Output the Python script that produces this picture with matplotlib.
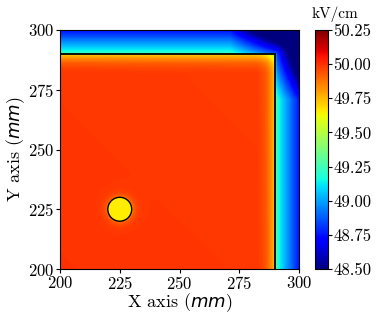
import numpy as np
import matplotlib
matplotlib.use("Agg")
import matplotlib.pyplot as plt
from matplotlib.patches import Circle

plt.rcParams['font.family'] = 'serif'
plt.rcParams['font.serif'] = ['cmr10', 'DejaVu Serif']
plt.rcParams['axes.formatter.use_mathtext'] = True
plt.rcParams['axes.unicode_minus'] = False

# ---- data ----
x_range = [200, 300]          # mm
y_range = [200, 300]          # mm
boundary = 290                # mm, inner square edge
base_field = 50.0             # kV/cm in the bulk
inner_dist = [0, 1, 2, 3, 4, 6, 8, 100]            # mm inside the boundary
inner_drop = [0.30, 0.22, 0.16, 0.11, 0.07, 0.03, 0.01, 0.0]
outer_dist = [0, 1, 2, 4, 6, 8, 10, 15]            # mm outside the boundary
outer_drop = [0.75, 0.82, 0.88, 0.98, 1.07, 1.17, 1.25, 1.45]
corner_start = 271            # mm, where the extra corner drop begins
corner_drop = 0.85            # kV/cm extra drop at the far corner
circle_center = (225, 225)    # mm
circle_radius = 5             # mm
circle_field = 49.65          # kV/cm inside the inclusion
halo_drop = 0.12
cbar_ticks = [48.50, 48.75, 49.00, 49.25, 49.50, 49.75, 50.00, 50.25]
vmin, vmax = 48.5, 50.25

# ---- build the field grid ----
n = 400
xs = np.linspace(x_range[0], x_range[1], n)
ys = np.linspace(y_range[0], y_range[1], n)
X, Y = np.meshgrid(xs, ys)

inside = (X <= boundary) & (Y <= boundary)
E_in = base_field - np.interp(boundary - X, inner_dist, inner_drop) \
    - np.interp(boundary - Y, inner_dist, inner_drop)

dxo = np.clip(X - boundary, 0, None)
dyo = np.clip(Y - boundary, 0, None)
r_out = np.hypot(dxo, dyo)
gx = np.clip((X - corner_start) / (x_range[1] - corner_start), 0, 1)
gy = np.clip((Y - corner_start) / (y_range[1] - corner_start), 0, 1)
E_out = base_field - np.interp(r_out, outer_dist, outer_drop) - corner_drop * gx * gy

E = np.where(inside, E_in, E_out)

rc = np.hypot(X - circle_center[0], Y - circle_center[1])
E = np.where(rc <= circle_radius, circle_field,
             E - halo_drop * np.exp(-(rc - circle_radius) / 1.5) * (rc > circle_radius))

# ---- figure ----
fig = plt.figure(figsize=(3.81, 3.18), dpi=100)
ax = fig.add_axes([60/381, 49/318, 239/381, 239/318])
cax = fig.add_axes([315/381, 49/318, 13/381, 239/318])

im = ax.imshow(E, origin='lower', extent=[x_range[0], x_range[1], y_range[0], y_range[1]],
               cmap='jet', vmin=vmin, vmax=vmax, interpolation='bilinear', aspect='auto')
ax.plot([boundary, boundary], [y_range[0], boundary], color='k', lw=1.3)
ax.plot([x_range[0], boundary], [boundary, boundary], color='k', lw=1.3)
ax.add_patch(Circle(circle_center, circle_radius, fill=False, ec='k', lw=1.0))

ax.set_xlim(x_range)
ax.set_ylim(y_range)
ax.set_xticks([200, 225, 250, 275, 300])
ax.set_yticks([200, 225, 250, 275, 300])
ax.tick_params(labelsize=12, length=3, width=0.8, pad=1)
ax.set_xlabel('X axis ($mm$)', fontsize=13, labelpad=0)
ax.set_ylabel('Y axis ($mm$)', fontsize=13, labelpad=1)

cb = fig.colorbar(im, cax=cax, ticks=cbar_ticks)
cb.ax.set_yticklabels([f'{t:.2f}' for t in cbar_ticks])
cb.ax.tick_params(labelsize=12, length=3, width=0.8, pad=1)
cb.outline.set_linewidth(0.8)
fig.text(312/381, 1 - 18/318, 'kV/cm', fontsize=11, ha='left', va='baseline')

fig.savefig('out.png', dpi=100)
